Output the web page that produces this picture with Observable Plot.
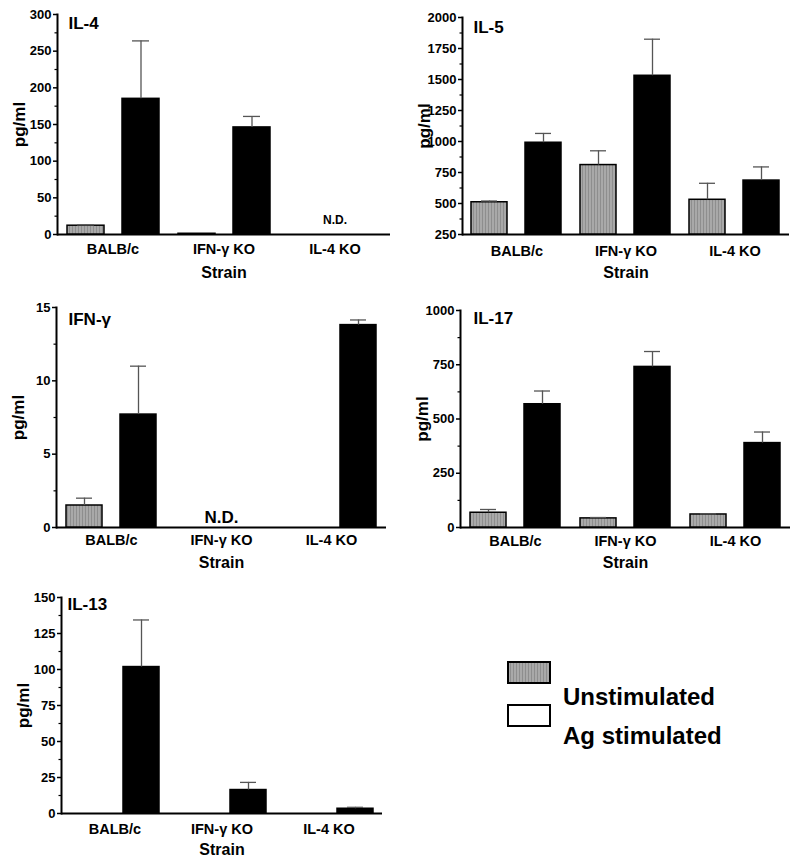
<!DOCTYPE html>
<html><head><meta charset="utf-8">
<script src="https://cdn.jsdelivr.net/npm/d3@7"></script>
<script src="https://cdn.jsdelivr.net/npm/@observablehq/plot@0.6"></script>
<style>
body{margin:0;background:#fff;font-family:Arial,"Liberation Sans",sans-serif;}
#root{position:relative;width:800px;height:864px;overflow:hidden;background:#fff;}
.panel{position:absolute;}
.lg{position:absolute;font-weight:bold;font-size:24px;line-height:24px;color:#000;white-space:nowrap;}
.box{position:absolute;width:40px;height:19px;border:2px solid #000;box-sizing:content-box;}
</style></head><body>
<svg width="0" height="0" style="position:absolute">
  <defs>
    <pattern id="stripes" width="3" height="4" patternUnits="userSpaceOnUse">
      <rect width="3" height="4" fill="#a9a9a9"></rect>
      <rect width="1" height="4" fill="#8e8e8e"></rect>
    </pattern>
  </defs>
</svg>
<div id="root"></div>
<script>
// ---------- data ----------
const strains = ["BALB/c", "IFN-γ KO", "IL-4 KO"];
const conditions = ["Unstimulated", "Ag stimulated"];

// IL-4 (pg/ml)
const il4Unstim = [12, 1, null];
const il4UnstimErr = [1, 0, null];
const il4Stim = [185, 146, null];
const il4StimErr = [79, 15, null];
const il4NotDetected = ["IL-4 KO"];

// IL-5 (pg/ml)
const il5Unstim = [510, 810, 530];
const il5UnstimErr = [10, 115, 133];
const il5Stim = [990, 1530, 685];
const il5StimErr = [75, 295, 110];

// IFN-γ (pg/ml)
const ifngUnstim = [1.5, null, null];
const ifngUnstimErr = [0.5, null, null];
const ifngStim = [7.7, null, 13.8];
const ifngStimErr = [3.3, null, 0.35];
const ifngNotDetected = ["IFN-γ KO"];

// IL-17 (pg/ml)
const il17Unstim = [68, 42, 60];
const il17UnstimErr = [15, 4, 3];
const il17Stim = [568, 740, 389];
const il17StimErr = [61, 71, 51];

// IL-13 (pg/ml)
const il13Unstim = [null, null, null];
const il13UnstimErr = [null, null, null];
const il13Stim = [101.7, 16.3, 3.3];
const il13StimErr = [32.7, 5.3, 1];

// y-axis ticks
const il4Ticks = [0, 50, 100, 150, 200, 250, 300];
const il4Minor = [25, 75, 125, 175, 225, 275];
const il5Ticks = [250, 500, 750, 1000, 1250, 1500, 1750, 2000];
const il5Minor = [375, 625, 875, 1125, 1375, 1625, 1875];
const ifngTicks = [0, 5, 10, 15];
const ifngMinor = [2.5, 7.5, 12.5];
const il17Ticks = [0, 250, 500, 750, 1000];
const il17Minor = [125, 375, 625, 875];
const il13Ticks = [0, 25, 50, 75, 100, 125, 150];
const il13Minor = [12.5, 37.5, 62.5, 87.5, 112.5, 137.5];

function rows(u, ue, s, se) {
  const out = [];
  strains.forEach((st, i) => {
    if (u[i] != null) out.push({strain: st, cond: conditions[0], value: u[i], err: ue[i]});
    if (s[i] != null) out.push({strain: st, cond: conditions[1], value: s[i], err: se[i]});
  });
  return out;
}

// ---------- layout ----------
const panels = [
  {title: "IL-4", data: rows(il4Unstim, il4UnstimErr, il4Stim, il4StimErr), nd: il4NotDetected,
   ticks: il4Ticks, minor: il4Minor,
   left: 0, top: 0, width: 400, height: 290, mL: 57, mR: 10, mT: 14, mB: 56,
   tDx: 11, tDy: 2, catPad: 9, strainOff: 43, ndSize: 12, ndDy: -11},
  {title: "IL-5", data: rows(il5Unstim, il5UnstimErr, il5Stim, il5StimErr), nd: [],
   ticks: il5Ticks, minor: il5Minor,
   left: 400, top: 0, width: 400, height: 290, mL: 61, mR: 10, mT: 17, mB: 56,
   tDx: 11, tDy: 3, catPad: 11, strainOff: 43, ndSize: 12, ndDy: -11},
  {title: "IFN-γ", data: rows(ifngUnstim, ifngUnstimErr, ifngStim, ifngStimErr), nd: ifngNotDetected,
   ticks: ifngTicks, minor: ifngMinor,
   left: 0, top: 290, width: 400, height: 290, mL: 55, mR: 13, mT: 17, mB: 53,
   tDx: 12, tDy: 5, catPad: 7, strainOff: 40, ndSize: 17, ndDy: -5},
  {title: "IL-17", data: rows(il17Unstim, il17UnstimErr, il17Stim, il17StimErr), nd: [],
   ticks: il17Ticks, minor: il17Minor,
   left: 400, top: 290, width: 400, height: 290, mL: 59, mR: 10, mT: 20, mB: 53,
   tDx: 13, tDy: 1, catPad: 8, strainOff: 40, ndSize: 12, ndDy: -11},
  {title: "IL-13", data: rows(il13Unstim, il13UnstimErr, il13Stim, il13StimErr), nd: [],
   ticks: il13Ticks, minor: il13Minor,
   left: 0, top: 580, width: 400, height: 284, mL: 60, mR: 18, mT: 17, mB: 51,
   tDx: 6, tDy: 0, catPad: 10, strainOff: 41, ndSize: 12, ndDy: -11}
];

const root = document.getElementById("root");
const FONT = 'Arial, "Liberation Sans", sans-serif';

for (const p of panels) {
  const domain = [p.ticks[0], p.ticks[p.ticks.length - 1]];
  const base = domain[0];
  const unst = p.data.filter(d => d.cond === conditions[0]);
  const stim = p.data.filter(d => d.cond === conditions[1]);
  const withErr = p.data.filter(d => d.err > 0);
  const chart = Plot.plot({
    width: p.width, height: p.height,
    marginLeft: p.mL, marginRight: p.mR, marginTop: p.mT, marginBottom: p.mB,
    style: {fontFamily: FONT, fontWeight: "bold", color: "#000", background: "#fff", overflow: "visible"},
    x: {domain: conditions, paddingInner: 0.33, paddingOuter: 0.17, axis: null},
    fx: {domain: strains, padding: 0},
    y: {domain},
    marks: [
      Plot.ruleY([base], {stroke: "#000", strokeWidth: 2}),
      Plot.frame({anchor: "left", facetAnchor: "left", stroke: "#000", strokeWidth: 2}),
      Plot.barY(unst, {fx: "strain", x: "cond", y1: () => base, y2: "value", fill: "url(#stripes)", stroke: "#000", strokeWidth: 1.5}),
      Plot.barY(stim, {fx: "strain", x: "cond", y1: () => base, y2: "value", fill: "#000", stroke: "#000", strokeWidth: 1.5}),
      Plot.ruleX(withErr, {fx: "strain", x: "cond", y1: "value", y2: d => d.value + d.err, stroke: "#555", strokeWidth: 1.3}),
      Plot.tickY(withErr, {fx: "strain", x: "cond", y: d => d.value + d.err, stroke: "#555", strokeWidth: 1.3, insetLeft: 10, insetRight: 10}),
      Plot.axisY({ticks: p.ticks, tickSize: 4, tickPadding: 2, tickFormat: d3.format("d"), fontSize: 13, label: null, strokeWidth: 1.5}),
      Plot.axisY({ticks: p.minor, tickSize: 2.5, tickFormat: () => "", label: null, strokeWidth: 1.2}),
      Plot.axisFx({anchor: "bottom", tickSize: 0, tickPadding: p.catPad, fontSize: 14.5, label: null}),
      Plot.axisFx({anchor: "bottom", tickSize: 0, tickFormat: () => "", fontSize: 16, label: "Strain", labelAnchor: "center", labelOffset: p.strainOff}),
      Plot.text(["pg/ml"], {frameAnchor: "left", facetAnchor: "left", rotate: -90, dx: -45, textAnchor: "middle", lineAnchor: "top", fontSize: 17, fontWeight: "bold", fill: "#000"}),
      Plot.text([p.title], {frameAnchor: "top-left", facetAnchor: "left", dx: p.tDx, dy: p.tDy, textAnchor: "start", lineAnchor: "top", fontSize: 17, fontWeight: "bold", fill: "#000"}),
      Plot.text(p.nd, {fx: d => d, frameAnchor: "bottom", text: () => "N.D.", dy: p.ndDy, lineAnchor: "bottom", fontSize: p.ndSize, fontWeight: "bold", fill: "#000"})
    ]
  });
  chart.classList.add("panel");
  chart.style.left = p.left + "px";
  chart.style.top = p.top + "px";
  root.appendChild(chart);
}

// ---------- legend ----------
const legendItems = [
  {label: "Unstimulated", fill: "url(#stripes)"},
  {label: "Ag stimulated", fill: "#fff"}
];
const legendBoxTop = [662, 705];
const legendTextTop = [685, 724];
legendItems.forEach((it, i) => {
  const box = document.createElementNS("http://www.w3.org/2000/svg", "svg");
  box.setAttribute("width", 44); box.setAttribute("height", 23);
  box.style.position = "absolute"; box.style.left = "507px"; box.style.top = (legendBoxTop[i] - 1) + "px";
  const r = document.createElementNS("http://www.w3.org/2000/svg", "rect");
  r.setAttribute("x", 1); r.setAttribute("y", 1); r.setAttribute("width", 42); r.setAttribute("height", 21);
  r.setAttribute("fill", it.fill); r.setAttribute("stroke", "#000"); r.setAttribute("stroke-width", 2);
  box.appendChild(r);
  root.appendChild(box);
  const t = document.createElement("div");
  t.className = "lg";
  t.style.left = "563px"; t.style.top = legendTextTop[i] + "px";
  t.textContent = it.label;
  root.appendChild(t);
});
</script></body></html>
